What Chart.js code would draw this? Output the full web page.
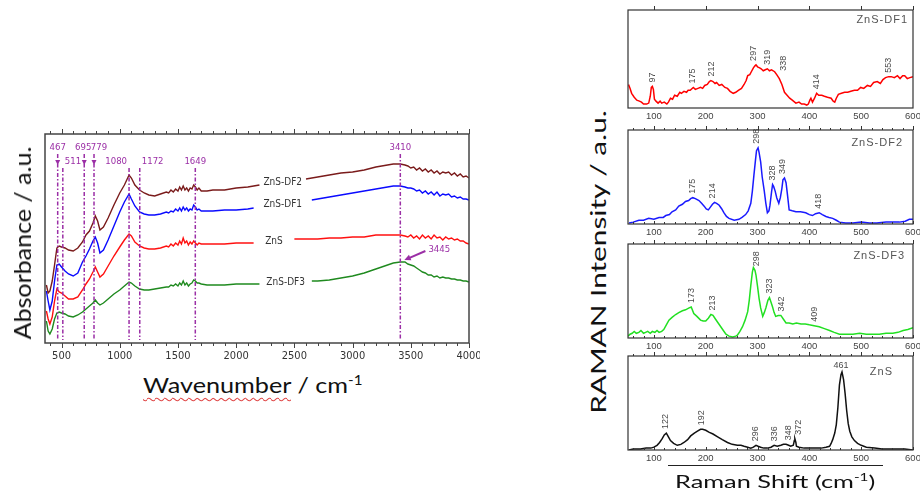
<!DOCTYPE html>
<html>
<head>
<meta charset="utf-8">
<script src="https://cdn.jsdelivr.net/npm/chart.js@4.4.1/dist/chart.umd.min.js"></script>
<style>
  html, body { margin: 0; padding: 0; background: #fff; }
  #page { position: relative; width: 920px; height: 495px; overflow: hidden; font-family: Lato, "Open Sans", sans-serif; color: #111; }
  canvas { position: absolute; }
  .ttl { position: absolute; white-space: nowrap; line-height: 1; }
  .rot { transform-origin: center center; }
  .wavy { text-decoration: underline wavy #e04848; text-decoration-thickness: 1px; text-underline-offset: 4px; }
  sup { font-size: 0.6em; line-height: 0; }
  #ramanX { border-top: 1px solid #222; width: 215px; text-align: center; padding-top: 6px; }
</style>
</head>
<body>
<div id="page">
  <canvas id="ftir" width="480" height="250" style="left:0px; top:120px"></canvas>
  <canvas id="r1" width="310" height="124" style="left:610px; top:2px"></canvas>
  <canvas id="r2" width="310" height="120" style="left:610px; top:122px"></canvas>
  <canvas id="r3" width="310" height="120" style="left:610px; top:236px"></canvas>
  <canvas id="r4" width="310" height="120" style="left:610px; top:348px"></canvas>

  <div class="ttl rot" id="absTitle" data-len="193" style="left:22px; top:243px; font-size:24px">Absorbance / a.u.</div>
  <div class="ttl" id="waveTitle" data-len="219" style="left:143px; top:374px; font-size:22px"><span class="wavy">Wavenumber</span> / cm<sup>-1</sup></div>
  <div class="ttl rot" id="ramanTitle" data-len="303" style="left:597px; top:262px; font-size:21px">RAMAN Intensity / a.u.</div>
  <div class="ttl" id="ramanX" style="left:668px; top:465px; font-size:18px"><span id="ramanXText" data-len="200" style="display:inline-block">Raman Shift (cm<sup>-1</sup>)</span></div>
</div>
<script>
// FTIR spectra, shared wavenumber grid (cm-1); null = gap where the curve name sits
const ftirWavenumber = [
  370, 385, 400, 420, 440, 460, 480, 500,
  530, 560, 600, 640, 680, 710, 740, 770,
  790, 810, 830, 860, 900, 950, 1000, 1040,
  1080, 1100, 1130, 1170, 1210, 1250, 1300, 1350,
  1400, 1420, 1440, 1460, 1480, 1500, 1515, 1530,
  1545, 1560, 1575, 1590, 1605, 1620, 1635, 1650,
  1665, 1680, 1700, 1750, 1800, 1900, 2000, 2100,
  2150, 2200, 2400, 2500, 2600, 2650, 2700, 2800,
  2900, 3000, 3100, 3200, 3300, 3350, 3410, 3450,
  3475, 3500, 3525, 3550, 3575, 3600, 3625, 3650,
  3675, 3700, 3725, 3750, 3775, 3800, 3825, 3850,
  3875, 3900, 3925, 3950, 3975, 4000
];
const ftirDF2 = [
  58, 50, 52, 62, 78, 95, 97, 96,
  95, 93, 92, 95, 101, 108, 112, 120,
  127, 122, 113, 116, 125, 138, 150, 158,
  168, 165, 158, 153, 150, 148, 147, 149,
  151, 150, 153, 151, 154, 152, 156, 153,
  157, 153, 155, 152, 155, 154, 158, 156,
  153, 155, 152, 152, 153, 153, 155, 156,
  157, 158, null, null, 164, 165, 166, 168,
  170, 171, 173, 176, 178, 179, 179, 178,
  177, 175, 176, 173, 175, 172, 174, 171,
  173, 170, 172, 169, 171, 170, 171, 168,
  170, 167, 169, 166, 167, 165
];
const ftirDF1 = [
  52, 42, 33, 42, 62, 78, 79, 76,
  72, 69, 67, 70, 81, 87, 94, 102,
  106, 100, 90, 93, 103, 117, 131, 141,
  149, 144, 137, 131, 129, 128, 128, 129,
  131, 130, 132, 131, 134, 132, 135, 132,
  136, 133, 135, 132, 134, 133, 138, 136,
  133, 134, 132, 132, 132, 133, 133, 134,
  135, null, null, null, null, 143, 144, 146,
  148, 150, 152, 154, 156, 157, 157, 156,
  155, 155, 154, 152, 153, 150, 152, 149,
  151, 148, 151, 147, 149, 148, 149, 146,
  147, 145, 146, 144, 144, 143
];
const ftirZnS = [
  32, 24, 19, 26, 42, 54, 51, 50,
  47, 44, 44, 46, 53, 59, 64, 71,
  76, 71, 66, 69, 77, 87, 96, 103,
  109, 107, 101, 97, 95, 94, 94, 95,
  97, 96, 99, 97, 100, 98, 102, 99,
  105, 100, 102, 98, 101, 99, 102, 100,
  98, 100, 99, 99, 99, 99, 100, 100,
  100, null, null, 104, 104, 104, 104, 105,
  105, 106, 106, 108, 108, 108, 108, 107,
  106, 108, 105, 107, 104, 108, 105, 107,
  104, 108, 105, 106, 103, 106, 104, 105,
  103, 104, 102, 102, 100, 99
];
const ftirDF3 = [
  22, 12, 9, 14, 24, 30, 31, 30,
  29, 27, 26, 28, 31, 34, 37, 40,
  43, 40, 38, 40, 44, 49, 53, 57,
  61, 60, 57, 54, 53, 53, 54, 55,
  56, 56, 58, 57, 59, 57, 60, 58,
  62, 58, 60, 57, 59, 60, 63, 62,
  60, 60, 59, 58, 58, 58, 59, 59,
  59, 59, null, null, null, 62, 62, 63,
  65, 67, 70, 74, 78, 80, 81, 81,
  79, 78, 77, 75, 73, 71, 70, 68,
  68, 66, 67, 65, 66, 65, 65, 64,
  64, 63, 63, 62, 62, 61
];
const ftirPeaks = [467, 511, 695, 779, 1080, 1172, 1649, 3410];
const ftirShoulder = 3445;
const ftirTicks = [500, 1000, 1500, 2000, 2500, 3000, 3500, 4000];

// Raman spectra (shift in cm-1, intensity in a.u.)
const ramanShiftDF1 = [51, 54, 57, 62, 67, 72, 76, 80, 86, 90, 93, 95, 97, 99, 101, 104, 108, 112, 115, 120,
  125, 128, 132, 136, 140, 145, 150, 153, 158, 163, 166, 170, 176, 180, 185, 190, 194, 198, 203, 207,
  210, 214, 218, 221, 226, 231, 237, 242, 247, 253, 258, 263, 269, 274, 278, 281, 285, 288, 292, 295,
  297, 300, 304, 307, 311, 315, 319, 323, 327, 333, 337, 342, 347, 352, 357, 362, 367, 374, 380, 385,
  390, 395, 398, 401, 403, 406, 410, 414, 418, 424, 429, 435, 442, 446, 449, 452, 456, 462, 468, 474,
  480, 487, 493, 499, 505, 512, 518, 524, 531, 537, 542, 547, 553, 558, 564, 570, 575, 580, 584, 589, 594, 600];
const ramanDF1 = [24, 20, 15, 11, 8, 7, 6, 4, 4, 5, 12, 21, 22, 19, 9, 7, 5, 7, 5, 6,
  4, 6, 10, 9, 13, 12, 16, 15, 17, 16, 18, 18, 21, 19, 20, 21, 20, 23, 24, 27,
  28, 27, 25, 26, 23, 24, 21, 20, 17, 15, 16, 18, 20, 24, 28, 33, 34, 37, 41, 43,
  44, 42, 41, 40, 38, 39, 40, 38, 39, 37, 34, 30, 24, 16, 13, 10, 8, 5, 6, 4,
  4, 3, 4, 8, 10, 6, 10, 15, 13, 13, 12, 11, 10, 7, 6, 10, 14, 15, 16, 16,
  17, 18, 18, 21, 20, 23, 22, 26, 27, 25, 29, 31, 32, 32, 31, 33, 30, 33, 33, 30, 31, 32];
const ramanPeaksDF1 = [97, 175, 212, 297, 319, 338, 414, 553];

const ramanShiftDF2 = [52, 60, 71, 80, 90, 100, 110, 118, 123, 130, 135, 142, 148, 155, 161, 167, 171, 175, 180, 187,
  192, 197, 201, 205, 209, 213, 217, 221, 226, 231, 235, 240, 245, 255, 264, 270, 277, 282, 287, 290,
  293, 296, 298, 301, 303, 306, 309, 313, 316, 319, 322, 324, 327, 329, 331, 334, 337, 341, 344, 347,
  349, 352, 355, 358, 361, 367, 374, 383, 393, 400, 406, 412, 419, 425, 432, 438, 445, 452, 458, 470,
  484, 500, 516, 530, 548, 560, 574, 585, 593, 600];
const ramanDF2 = [1, 2, 4, 4, 6, 5, 7, 7, 9, 10, 13, 15, 19, 21, 24, 25, 27, 28, 27, 25,
  22, 19, 16, 15, 18, 21, 23, 22, 20, 16, 12, 8, 6, 4, 5, 7, 10, 14, 22, 35,
  52, 68, 78, 81, 76, 66, 50, 35, 22, 12, 14, 20, 34, 42, 40, 35, 28, 22, 28, 38,
  47, 49, 44, 30, 15, 14, 13, 13, 12, 10, 9, 11, 12, 10, 8, 7, 6, 4, 2, 1,
  1, 2, 1, 1, 2, 2, 2, 3, 5, 5];
const ramanPeaksDF2 = [175, 214, 298, 328, 349, 418];

const ramanShiftDF3 = [50, 54, 58, 62, 66, 71, 75, 80, 84, 88, 93, 97, 102, 106, 110, 115, 119, 124, 129, 135,
  142, 148, 155, 161, 168, 172, 177, 183, 190, 195, 200, 205, 210, 214, 219, 224, 229, 234, 239, 245,
  252, 258, 261, 266, 271, 276, 281, 284, 287, 290, 292, 295, 297, 300, 303, 306, 310, 313, 316, 320,
  323, 326, 329, 332, 335, 340, 345, 350, 355, 361, 368, 375, 384, 392, 400, 409, 419, 429, 439, 448,
  458, 470, 484, 497, 510, 522, 535, 548, 561, 571, 581, 590, 600];
const ramanDF3 = [2, 4, 5, 7, 5, 6, 8, 5, 6, 7, 5, 7, 6, 8, 6, 7, 9, 14, 19, 22,
  25, 27, 29, 30, 32, 33, 26, 23, 19, 18, 18, 21, 25, 24, 20, 16, 12, 8, 4, 2,
  1, 2, 3, 7, 12, 19, 28, 40, 56, 70, 75, 72, 67, 55, 42, 32, 23, 27, 32, 40,
  43, 38, 33, 27, 23, 24, 24, 20, 16, 16, 15, 16, 15, 15, 14, 13, 12, 10, 8, 6,
  4, 4, 4, 5, 4, 4, 4, 5, 5, 6, 8, 9, 11];
const ramanPeaksDF3 = [173, 213, 298, 323, 342, 409];

const ramanShiftZnS = [52, 60, 74, 85, 94, 100, 106, 111, 116, 120, 124, 128, 132, 138, 145, 152, 158, 165, 171, 178,
  184, 190, 194, 200, 206, 214, 223, 232, 242, 251, 261, 268, 274, 281, 287, 292, 297, 301, 306, 312,
  319, 326, 332, 338, 345, 350, 355, 360, 364, 369, 371, 372, 374, 375, 380, 390, 397, 410, 423, 432,
  439, 442, 445, 449, 452, 455, 458, 461, 463, 466, 469, 472, 475, 478, 482, 487, 493, 500, 510, 526,
  540, 552, 570, 584, 600];
const ramanZnS = [0, 1, 1, 2, 2, 3, 5, 8, 12, 16, 18, 14, 10, 7, 5, 6, 8, 11, 15, 18,
  20, 22, 22, 21, 19, 17, 14, 11, 8, 6, 5, 5, 4, 3, 2, 3, 5, 4, 3, 2,
  2, 3, 5, 4, 5, 6, 6, 5, 4, 5, 10, 12, 8, 4, 3, 2, 2, 2, 2, 3,
  4, 7, 11, 18, 27, 45, 69, 80, 83, 75, 60, 42, 28, 20, 14, 10, 7, 5, 3, 2,
  1, 1, 1, 1, 0];
const ramanPeaksZnS = [122, 192, 296, 336, 348, 372, 461];
const ramanTicks = [100, 200, 300, 400, 500, 600];

// label placement for the FTIR band markers: row 0 = upper, row 1 = lower
const ftirPeakLook = {
  467: { row: 0, align: 'center', arrow: true },
  511: { row: 1, align: 'left' },
  695: { row: 0, align: 'center', arrow: true, dx: -1 },
  779: { row: 0, align: 'center', arrow: true, dx: 5 },
  1080: { row: 1, align: 'right' },
  1172: { row: 1, align: 'left' },
  1649: { row: 1, align: 'center' },
  3410: { row: 0, align: 'center' }
};

const PURPLE = '#9b2fa6';
const TICK_FONT = 'Arial, "Liberation Sans", sans-serif';
const NARROW_FONT = '"Liberation Sans Narrow", "DejaVu Sans Condensed", Arial, sans-serif';

function valueAt(xs, ys, v) {
  for (let i = 1; i < xs.length; i++) {
    if (xs[i] >= v && ys[i] !== null && ys[i - 1] !== null) {
      const t = (v - xs[i - 1]) / (xs[i] - xs[i - 1]);
      return ys[i - 1] + t * (ys[i] - ys[i - 1]);
    }
  }
  return ys[ys.length - 1];
}

function peakValue(xs, ys, p) {
  let best = null;
  xs.forEach((s, i) => { if (Math.abs(s - p) <= 4 && (best === null || ys[i] > best)) best = ys[i]; });
  return best === null ? valueAt(xs, ys, p) : best;
}

// box around the plot area plus major/minor tick marks on top and bottom
const framePlugin = {
  id: 'frame',
  afterDraw(chart, args, opts) {
    const { ctx, chartArea: a, scales: { x } } = chart;
    ctx.save();
    ctx.strokeStyle = opts.color;
    ctx.lineWidth = 1;
    for (const t of opts.ticks) {
      const edge = t.side === 'top' ? a.top : a.bottom;
      const sign = (t.side === 'top') === (t.dir === 'out') ? -1 : 1;
      for (let v = Math.ceil(x.min / t.step) * t.step; v <= x.max; v += t.step) {
        const px = Math.round(x.getPixelForValue(v)) + 0.5;
        ctx.beginPath();
        ctx.moveTo(px, edge);
        ctx.lineTo(px, edge + sign * t.len);
        ctx.stroke();
      }
    }
    ctx.lineWidth = opts.width;
    ctx.strokeRect(a.left, a.top, a.right - a.left, a.bottom - a.top);
    ctx.restore();
  }
};

// dashed band markers, their labels and the 3445 pointer
const ftirPeakPlugin = {
  id: 'ftirPeaks',
  afterDatasetsDraw(chart, args, opts) {
    const { ctx, chartArea: a, scales: { x, y } } = chart;
    ctx.save();
    ctx.strokeStyle = PURPLE;
    ctx.fillStyle = PURPLE;
    ctx.font = '9.5px ' + NARROW_FONT;
    ctx.textBaseline = 'middle';
    ftirPeaks.forEach(p => {
      const look = ftirPeakLook[p];
      const px = x.getPixelForValue(p);
      const rowY = a.top + opts.rows[look.row];
      ctx.setLineDash([4, 2, 1.5, 2]);
      ctx.lineWidth = 1.5;
      ctx.beginPath();
      ctx.moveTo(px, rowY + 6);
      ctx.lineTo(px, a.bottom - 3);
      ctx.stroke();
      ctx.setLineDash([]);
      ctx.textAlign = look.align;
      const tx = look.align === 'left' ? px + 2 : look.align === 'right' ? px - 2 : px + (look.dx || 0);
      ctx.fillText(String(p), tx, rowY);
      if (look.arrow) {
        const ay = a.top + opts.rows[1] + 2;
        ctx.beginPath();
        ctx.moveTo(px - 2.5, ay - 4);
        ctx.lineTo(px + 2.5, ay - 4);
        ctx.lineTo(px, ay + 1);
        ctx.closePath();
        ctx.fill();
      }
    });
    // pointer to the O-H maximum of ZnS-DF3
    const tipX = x.getPixelForValue(ftirShoulder);
    const tipY = y.getPixelForValue(valueAt(ftirWavenumber, ftirDF3, ftirShoulder)) - 2;
    const tailX = tipX + 21, tailY = tipY - 9;
    ctx.lineWidth = 2;
    ctx.beginPath();
    ctx.moveTo(tailX, tailY);
    ctx.lineTo(tipX + 4, tipY - 1.7);
    ctx.stroke();
    const ang = Math.atan2(tipY - tailY, tipX - tailX);
    ctx.beginPath();
    ctx.moveTo(tipX, tipY);
    ctx.lineTo(tipX - 7 * Math.cos(ang - 0.45), tipY - 7 * Math.sin(ang - 0.45));
    ctx.lineTo(tipX - 7 * Math.cos(ang + 0.45), tipY - 7 * Math.sin(ang + 0.45));
    ctx.closePath();
    ctx.fill();
    ctx.textAlign = 'left';
    ctx.fillText(String(ftirShoulder), tailX + 3, tailY - 1);
    ctx.restore();
  }
};

// sample names written into the break of each FTIR trace
const gapLabelPlugin = {
  id: 'gapLabels',
  afterDatasetsDraw(chart) {
    const { ctx, scales: { x, y } } = chart;
    ctx.save();
    ctx.font = '10px ' + NARROW_FONT;
    ctx.fillStyle = '#333';
    ctx.textAlign = 'center';
    ctx.textBaseline = 'middle';
    chart.data.datasets.forEach(ds => {
      const vals = ds.values;
      const first = vals.indexOf(null);
      let last = first;
      while (vals[last + 1] === null) last++;
      const w = (ftirWavenumber[first - 1] + ftirWavenumber[last + 1]) / 2;
      const v = (vals[first - 1] + vals[last + 1]) / 2;
      ctx.fillText(ds.label, x.getPixelForValue(w), y.getPixelForValue(v));
    });
    ctx.restore();
  }
};

// Raman peak positions written above the curve, plus the sample name
const ramanPeakPlugin = {
  id: 'ramanPeaks',
  afterDatasetsDraw(chart, args, opts) {
    const { ctx, chartArea: a, scales: { x, y } } = chart;
    const ds = chart.data.datasets[0];
    ctx.save();
    ctx.fillStyle = '#4a4a4a';
    ctx.font = '9px ' + TICK_FONT;
    opts.peaks.forEach(p => {
      const px = x.getPixelForValue(p) + (opts.nudge[p] || 0);
      const py = y.getPixelForValue(peakValue(ds.shift, ds.values, p));
      if (opts.flat.includes(p)) {
        ctx.textAlign = 'center';
        ctx.textBaseline = 'bottom';
        ctx.fillText(String(p), px, py - 2);
      } else {
        ctx.save();
        ctx.translate(px, py - 4);
        ctx.rotate(-Math.PI / 2);
        ctx.textAlign = 'left';
        ctx.textBaseline = 'middle';
        ctx.fillText(String(p), 0, 0);
        ctx.restore();
      }
    });
    ctx.font = '11px ' + TICK_FONT;
    ctx.letterSpacing = '1px';
    ctx.fillStyle = '#555';
    ctx.textAlign = 'right';
    ctx.textBaseline = 'middle';
    ctx.fillText(opts.title, a.right - opts.titleInset, a.top + opts.titleDrop);
    ctx.restore();
  }
};

function ftirSet(label, values, color) {
  return {
    label: label,
    values: values,
    data: ftirWavenumber.map((w, i) => ({ x: w, y: values[i] })),
    borderColor: color,
    borderWidth: 1.4,
    pointRadius: 0,
    tension: 0,
    spanGaps: false
  };
}

new Chart(document.getElementById('ftir'), {
  type: 'line',
  data: {
    datasets: [
      ftirSet('ZnS-DF2', ftirDF2, '#7a1b1b'),
      ftirSet('ZnS-DF1', ftirDF1, '#0a0aff'),
      ftirSet('ZnS', ftirZnS, '#ff1010'),
      ftirSet('ZnS-DF3', ftirDF3, '#1f8a1f')
    ]
  },
  options: {
    responsive: false,
    animation: false,
    layout: { padding: { left: 45, right: 11, top: 14, bottom: 0 } },
    scales: {
      x: {
        type: 'linear', min: 358, max: 4000,
        grid: { display: false, drawTicks: false },
        border: { display: false },
        afterBuildTicks: s => { s.ticks = ftirTicks.map(v => ({ value: v })); },
        afterFit: s => { s.height = 27; s.paddingLeft = 0; s.paddingRight = 0; },
        ticks: {
          autoSkip: false, maxRotation: 0, padding: 7, color: '#333',
          font: { family: NARROW_FONT, size: 11 },
          callback: v => String(v)
        }
      },
      y: { display: false, min: 0, max: 209 }
    },
    plugins: {
      legend: { display: false },
      tooltip: { enabled: false },
      frame: {
        color: '#444', width: 1.5,
        ticks: [
          { side: 'top', dir: 'out', step: 100, len: 3 },
          { side: 'top', dir: 'out', step: 500, len: 5 },
          { side: 'bottom', dir: 'out', step: 100, len: 3 },
          { side: 'bottom', dir: 'out', step: 500, len: 5 }
        ]
      },
      ftirPeaks: { rows: [14, 28] }
    }
  },
  plugins: [framePlugin, ftirPeakPlugin, gapLabelPlugin]
});

function ramanChart(id, shift, values, color, peaks, look) {
  return new Chart(document.getElementById(id), {
    type: 'line',
    data: {
      datasets: [{
        shift: shift,
        values: values,
        data: shift.map((s, i) => ({ x: s, y: values[i] })),
        borderColor: color,
        borderWidth: 1.5,
        pointRadius: 0,
        tension: 0
      }]
    },
    options: {
      responsive: false,
      animation: false,
      layout: { padding: { left: 18, right: 7, top: 8, bottom: 0 } },
      scales: {
        x: {
          type: 'linear', min: 50, max: 600,
          grid: { display: false, drawTicks: false },
          border: { display: false },
          afterBuildTicks: s => { s.ticks = ramanTicks.map(v => ({ value: v })); },
          afterFit: s => { s.height = 18; s.paddingLeft = 0; s.paddingRight = 0; },
          ticks: { autoSkip: false, maxRotation: 0, padding: 3, color: '#444', font: { family: TICK_FONT, size: 9.5 }, callback: v => String(v) }
        },
        y: { display: false, min: 0, max: 100 }
      },
      plugins: {
        legend: { display: false },
        tooltip: { enabled: false },
        frame: { color: '#333', width: 1.2, ticks: look.ticks },
        ramanPeaks: {
          peaks: peaks, title: look.title, titleInset: look.titleInset, titleDrop: look.titleDrop,
          flat: look.flat || [], nudge: look.nudge || {}
        }
      }
    },
    plugins: [framePlugin, ramanPeakPlugin]
  });
}

const panelTicks = [
  { side: 'top', dir: 'out', step: 20, len: 2 },
  { side: 'top', dir: 'out', step: 100, len: 4 },
  { side: 'bottom', dir: 'in', step: 20, len: 2 },
  { side: 'bottom', dir: 'in', step: 100, len: 3 }
];

ramanChart('r1', ramanShiftDF1, ramanDF1, '#ff0000', ramanPeaksDF1,
  { title: 'ZnS-DF1', titleInset: 5, titleDrop: 10, nudge: { 297: -2, 338: 6 },
    ticks: [{ side: 'top', dir: 'out', step: 100, len: 4 }] });
ramanChart('r2', ramanShiftDF2, ramanDF2, '#1a1aff', ramanPeaksDF2,
  { title: 'ZnS-DF2', titleInset: 10, titleDrop: 13, ticks: panelTicks });
ramanChart('r3', ramanShiftDF3, ramanDF3, '#22e022', ramanPeaksDF3,
  { title: 'ZnS-DF3', titleInset: 8, titleDrop: 12, nudge: { 342: 2 }, ticks: panelTicks });
ramanChart('r4', ramanShiftZnS, ramanZnS, '#111111', ramanPeaksZnS,
  { title: 'ZnS', titleInset: 20, titleDrop: 16, ticks: panelTicks, flat: [461], nudge: { 336: -2, 348: 6, 372: 4 } });

// stretch the big axis titles along their reading direction to the plotted length
function fitTitle(el) {
  const s = Number(el.dataset.len) / el.offsetWidth;
  if (el.classList.contains('rot')) {
    el.style.transform = 'translate(-50%, -50%) rotate(-90deg) scaleX(' + s + ')';
  } else {
    el.style.transformOrigin = 'center top';
    el.style.transform = 'scaleX(' + s + ')';
  }
}
['absTitle', 'ramanTitle', 'ramanXText'].forEach(id => fitTitle(document.getElementById(id)));
const wt = document.getElementById('waveTitle');
wt.style.transformOrigin = 'left top';
wt.style.transform = 'scaleX(' + (Number(wt.dataset.len) / wt.offsetWidth) + ')';
</script>
</body>
</html>
